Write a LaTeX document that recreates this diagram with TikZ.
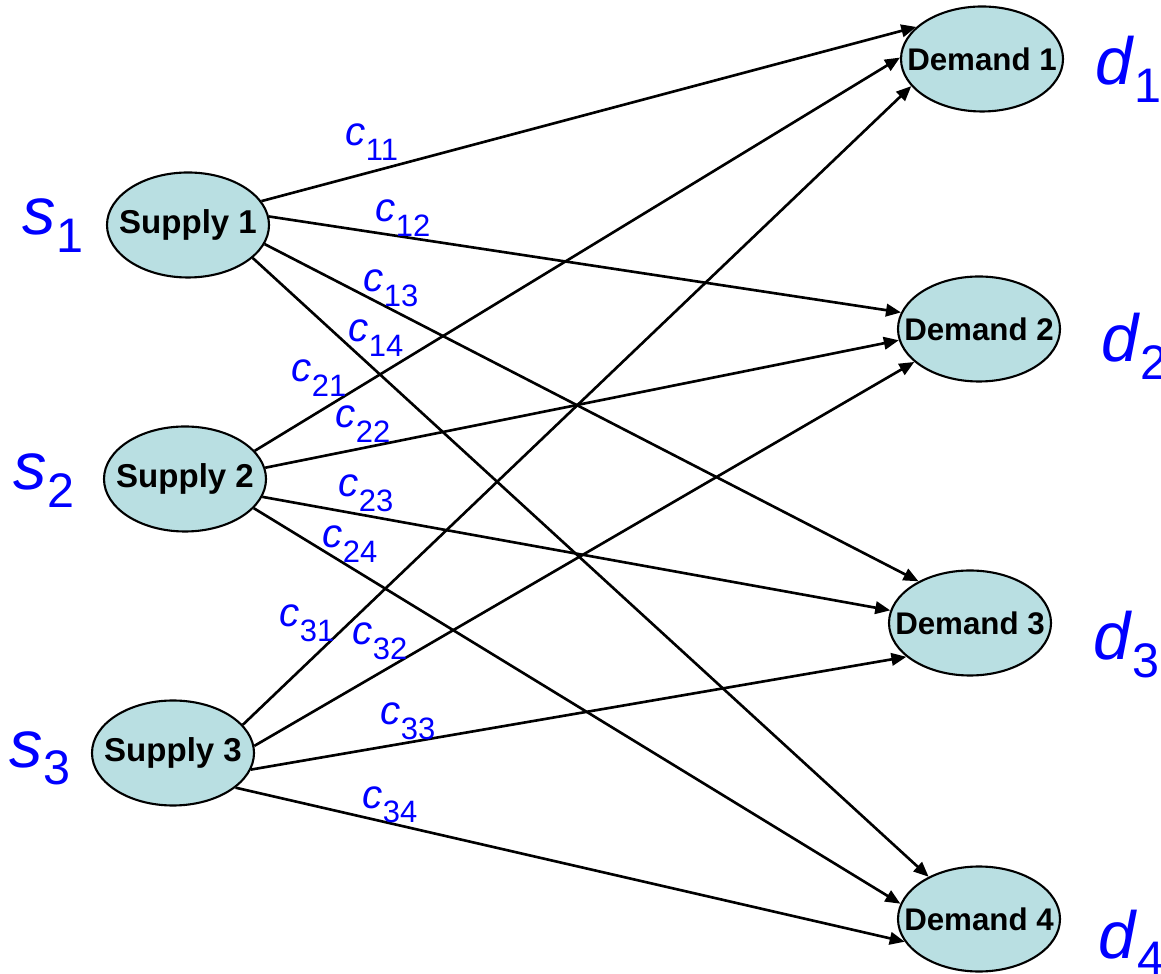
\documentclass[tikz,border=0pt]{standalone}
\usepackage{fontspec}
\setmainfont{Liberation Sans}
\usepackage{xcolor}
\usepackage{tikz}
\usetikzlibrary{shapes.geometric, arrows.meta}

\definecolor{nodefill}{RGB}{185,223,226}
\definecolor{labelblue}{RGB}{0,0,255}

\newcommand{\costsub}[1]{\textit{c}\raisebox{-4pt}{\fontsize{8.8}{10}\selectfont #1}}
\newcommand{\qtysub}[2]{\textit{#1}\raisebox{-5pt}{\fontsize{13.8}{16}\selectfont #2}}

\begin{document}
\begin{tikzpicture}[ovalnode/.style={ellipse, draw=black, fill=nodefill, line width=0.6pt, minimum width=1.62cm, minimum height=1.05cm, inner sep=0pt, inner xsep=-2.5mm, font=\fontsize{9.4}{11}\selectfont\bfseries},
  costlabel/.style={anchor=base west, inner sep=0pt, text=labelblue, font=\fontsize{11.5}{13}\selectfont},
  amountlabel/.style={anchor=base west, inner sep=0pt, text=labelblue, font=\fontsize{19}{22}\selectfont},
  arc/.style={line width=0.75pt, -{Triangle[length=1.5mm, width=1.25mm]}}]
\useasboundingbox (0,0) rectangle (11.61,9.73);

\node[ovalnode] at (1.88, 7.48) (s1) {Supply 1};
\node[ovalnode] at (1.85, 4.94) (s2) {Supply 2};
\node[ovalnode] at (1.73, 2.20) (s3) {Supply 3};
\node[ovalnode, font=\fontsize{8.9}{11}\selectfont\bfseries] at (9.82, 9.14) (d1) {Demand 1};
\node[ovalnode, font=\fontsize{8.9}{11}\selectfont\bfseries] at (9.79, 6.44) (d2) {Demand 2};
\node[ovalnode, font=\fontsize{8.9}{11}\selectfont\bfseries] at (9.70, 3.50) (d3) {Demand 3};
\node[ovalnode, font=\fontsize{8.9}{11}\selectfont\bfseries] at (9.79, 0.54) (d4) {Demand 4};

\node[amountlabel] at (0.22, 7.38) (sup1) {\qtysub{s}{1}};
\node[amountlabel] at (0.13, 4.83) (sup2) {\qtysub{s}{2}};
\node[amountlabel] at (0.09, 2.06) (sup3) {\qtysub{s}{3}};
\node[amountlabel] at (10.95, 8.88) (dem1) {\qtysub{d}{1}};
\node[amountlabel] at (11.01, 6.11) (dem2) {\qtysub{d}{2}};
\node[amountlabel] at (10.93, 3.13) (dem3) {\qtysub{d}{3}};
\node[amountlabel] at (10.98, 0.15) (dem4) {\qtysub{d}{4}};

\draw[arc] (s1.18) -- (d1.154);
\draw[arc] (s1.6) -- (d2.168);
\draw[arc] (s1.346) -- (d3.141);
\draw[arc] (s1.333) -- (d4.140);
\draw[arc] (s2.22) -- (d1.179);
\draw[arc] (s2.8) -- (d2.188);
\draw[arc] (s2.347) -- (d3.171);
\draw[arc] (s2.337) -- (d4.169);
\draw[arc] (s3.22) -- (d1.201);
\draw[arc] (s3.5) -- (d2.207);
\draw[arc] (s3.348) -- (d3.208);
\draw[arc] (s3.331) -- (d4.197);

\node[costlabel] at (3.45, 8.27) (c11) {\costsub{11}};
\node[costlabel] at (3.75, 7.51) (c12) {\costsub{12}};
\node[costlabel] at (3.63, 6.81) (c13) {\costsub{13}};
\node[costlabel] at (3.48, 6.31) (c14) {\costsub{14}};
\node[costlabel] at (2.91, 5.91) (c21) {\costsub{21}};
\node[costlabel] at (3.35, 5.45) (c22) {\costsub{22}};
\node[costlabel] at (3.38, 4.76) (c23) {\costsub{23}};
\node[costlabel] at (3.22, 4.25) (c24) {\costsub{24}};
\node[costlabel] at (2.79, 3.46) (c31) {\costsub{31}};
\node[costlabel] at (3.52, 3.28) (c32) {\costsub{32}};
\node[costlabel] at (3.80, 2.48) (c33) {\costsub{33}};
\node[costlabel] at (3.62, 1.65) (c34) {\costsub{34}};

\end{tikzpicture}
\end{document}
